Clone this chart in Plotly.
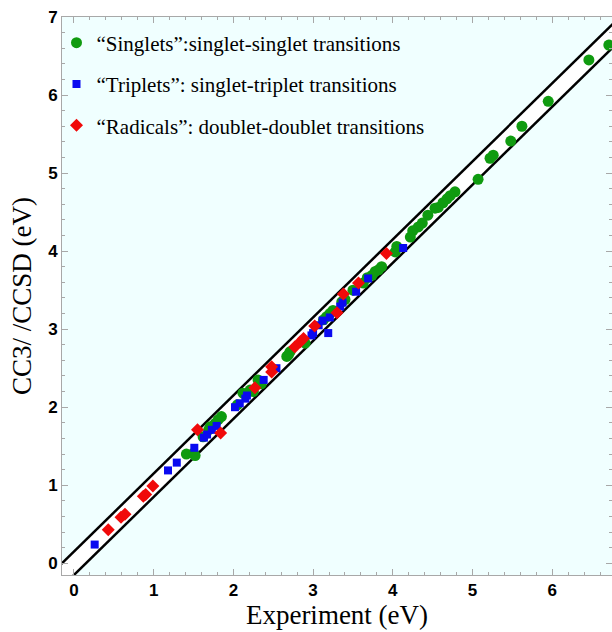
import plotly.graph_objects as go

singlets_x = [6.71, 6.46, 5.95, 5.62, 5.48, 5.26, 5.22, 5.07, 4.78, 4.72, 4.68, 4.63, 4.57, 4.53,
              4.44, 4.37, 4.32, 4.25, 4.22, 4.05, 4.03, 3.86, 3.82, 3.78, 3.74, 3.68, 3.63, 3.50,
              3.40, 3.36, 3.25, 3.21, 3.17, 3.13, 2.90, 2.71, 2.69, 2.67, 2.31, 2.35, 2.21, 2.25,
              2.12, 2.05, 1.85, 1.81, 1.77, 1.71, 1.69, 1.62, 1.41, 1.50, 1.52]
singlets_y = [6.64, 6.45, 5.92, 5.60, 5.41, 5.23, 5.19, 4.92, 4.76, 4.71, 4.67, 4.62, 4.56, 4.55,
              4.46, 4.36, 4.31, 4.26, 4.18, 4.06, 3.99, 3.80, 3.76, 3.74, 3.69, 3.66, 3.59, 3.50,
              3.38, 3.35, 3.24, 3.20, 3.16, 3.12, 2.82, 2.71, 2.67, 2.65, 2.35, 2.30, 2.22, 2.20,
              2.18, 2.03, 1.88, 1.84, 1.79, 1.75, 1.71, 1.62, 1.40, 1.41, 1.38]

triplets_x = [0.26, 1.18, 1.29, 1.51, 1.63, 1.67, 1.73, 1.79, 2.02, 2.08, 2.15, 2.17, 2.38, 2.54,
              2.98, 3.00, 3.07, 3.12, 3.19, 3.21, 3.34, 3.37, 3.54, 3.69, 4.13]
triplets_y = [0.24, 1.19, 1.29, 1.48, 1.61, 1.65, 1.71, 1.76, 2.00, 2.05, 2.11, 2.15, 2.35, 2.50,
              2.92, 2.95, 3.05, 3.11, 2.95, 3.15, 3.29, 3.34, 3.48, 3.65, 4.04]

radicals_x = [0.43, 0.59, 0.64, 0.87, 0.90, 0.99, 1.55, 1.84, 2.27, 2.48, 2.48, 2.77, 2.84, 2.88,
              3.02, 3.30, 3.38, 3.57, 3.92]
radicals_y = [0.43, 0.59, 0.63, 0.86, 0.88, 0.99, 1.71, 1.67, 2.25, 2.52, 2.45, 2.77, 2.84, 2.88,
              3.04, 3.21, 3.45, 3.59, 3.97]

band_half_width = 0.15
line_x = [-0.5, 7.5]

fig = go.Figure()

fig.add_trace(go.Scatter(x=line_x, y=[v - band_half_width for v in line_x], mode="lines",
                         line=dict(color="black", width=2.5), showlegend=False, hoverinfo="skip"))
fig.add_trace(go.Scatter(x=line_x, y=[v + band_half_width for v in line_x], mode="lines",
                         line=dict(color="black", width=2.5), fill="tonexty", fillcolor="white",
                         showlegend=False, hoverinfo="skip"))

fig.add_trace(go.Scatter(x=singlets_x, y=singlets_y, mode="markers",
                         name="\u201cSinglets\u201d:singlet-singlet transitions", legendgroup="a",
                         marker=dict(symbol="circle", size=11, color="#109B10")))
fig.add_trace(go.Scatter(x=triplets_x, y=triplets_y, mode="markers",
                         name="\u201cTriplets\u201d: singlet-triplet transitions", legendgroup="b",
                         marker=dict(symbol="square", size=8, color="#0A0AF0")))
fig.add_trace(go.Scatter(x=radicals_x, y=radicals_y, mode="markers",
                         name="\u201cRadicals\u201d: doublet-doublet transitions", legendgroup="c",
                         marker=dict(symbol="diamond", size=10, color="#F00A0A")))

axis_common = dict(
    showgrid=False, zeroline=False, showline=True, linecolor="#A8A8A8", linewidth=1,
    mirror="ticks", ticks="inside", ticklen=6, tickcolor="#A8A8A8", tickwidth=1,
    tickfont=dict(family="Liberation Sans", size=17, color="black", weight="bold"),
    dtick=1, automargin=False, ticklabeloverflow="allow",
    minor=dict(ticks="inside", ticklen=3, dtick=0.2, tickcolor="#A8A8A8"),
)

fig.update_layout(
    width=612, height=632,
    margin=dict(l=62, r=0, t=17, b=57),
    paper_bgcolor="white", plot_bgcolor="#F0FFFF",
    xaxis=dict(range=[-0.15, 6.75], tick0=0,
               title=dict(text="Experiment (eV)", standoff=4,
                          font=dict(family="Liberation Serif", size=27, color="black")),
               **axis_common),
    yaxis=dict(range=[-0.15, 7.0], tick0=0,
               title=dict(text="CC3/ /CCSD (eV)", standoff=8,
                          font=dict(family="Liberation Serif", size=27, color="black")),
               **axis_common),
    legend=dict(x=-0.01, y=0.99, xanchor="left", yanchor="top", bgcolor="rgba(0,0,0,0)",
                font=dict(family="Liberation Serif", size=21, color="black"),
                tracegroupgap=11, itemsizing="trace"),
)

fig.write_html("out.html", config={"displayModeBar": False},
               post_script="document.body.style.margin='0px';document.body.style.overflow='hidden';")
